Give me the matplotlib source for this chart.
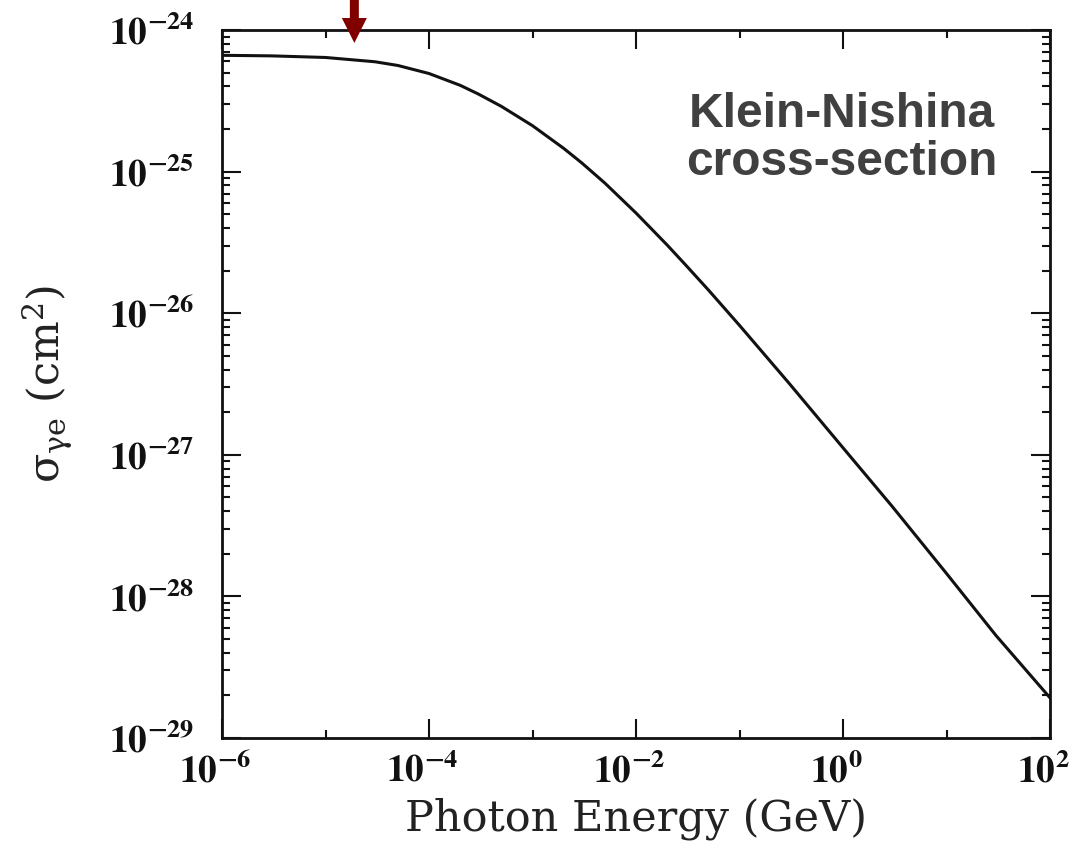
import math
import matplotlib
matplotlib.use("Agg")
import matplotlib.pyplot as plt
import matplotlib.transforms as mtransforms
from matplotlib.patches import FancyArrow
from matplotlib.ticker import FixedLocator, FuncFormatter, LogLocator, NullFormatter

plt.rcParams['mathtext.fontset'] = 'stix'

# Klein-Nishina total cross-section vs photon energy
energy_gev = [1e-6, 3e-6, 1e-5, 3e-5, 5e-5, 1e-4, 2e-4, 3e-4, 5e-4, 1e-3,
              2e-3, 3e-3, 5e-3, 1e-2, 2e-2, 3e-2, 5e-2, 1e-1, 3e-1, 1.0,
              3.0, 10.0, 30.0, 100.0]
sigma_cm2 = [6.63e-25, 6.57e-25, 6.40e-25, 5.97e-25, 5.62e-25, 4.93e-25,
             4.07e-25, 3.53e-25, 2.89e-25, 2.11e-25, 1.46e-25, 1.15e-25,
             8.3e-26, 5.1e-26, 3.03e-26, 2.2e-26, 1.46e-26, 8.2e-27,
             3.21e-27, 1.12e-27, 4.3e-28, 1.45e-28, 5.3e-29, 1.92e-29]

x_major = [1e-6, 1e-4, 1e-2, 1e0, 1e2]
x_minor = [1e-5, 1e-3, 1e-1, 1e1]
y_major = [1e-29, 1e-28, 1e-27, 1e-26, 1e-25, 1e-24]

marker_energy = 1.9e-5
marker_sigma = 8.1e-25

fig = plt.figure(figsize=(10.74, 8.46), dpi=100)
ax = fig.add_axes([0.2067, 0.1277, 0.7710, 0.8368])

ax.plot(energy_gev, sigma_cm2, color='#111111', lw=2.2)
ax.set_xscale('log')
ax.set_yscale('log')
ax.set_xlim(1e-6, 1e2)
ax.set_ylim(1e-29, 1e-24)

ax.xaxis.set_major_locator(FixedLocator(x_major))
ax.xaxis.set_minor_locator(FixedLocator(x_minor))
ax.xaxis.set_minor_formatter(NullFormatter())
ax.yaxis.set_major_locator(FixedLocator(y_major))
ax.yaxis.set_minor_locator(LogLocator(base=10, subs=range(2, 10), numticks=20))
ax.yaxis.set_minor_formatter(NullFormatter())


def pow_label(v, pos):
    e = int(round(math.log10(v)))
    return r'$\mathbf{10^{%d}}$' % e


ax.xaxis.set_major_formatter(FuncFormatter(pow_label))
ax.yaxis.set_major_formatter(FuncFormatter(pow_label))

ax.tick_params(which='both', direction='in', top=True, right=True,
               width=1.5, colors='#111111', labelsize=27)
ax.tick_params(which='major', length=14)
ax.tick_params(which='minor', length=6)
ax.tick_params(axis='x', which='major', pad=11)
ax.tick_params(axis='y', which='major', pad=20)
for s in ax.spines.values():
    s.set_linewidth(2.0)
    s.set_color('#111111')

# nudge x tick labels a little left
shift = mtransforms.ScaledTranslation(-7 / 100, 0, fig.dpi_scale_trans)
for lab in ax.get_xticklabels():
    lab.set_transform(lab.get_transform() + shift)

ax.set_xlabel('Photon Energy (GeV)', family='DejaVu Serif', fontsize=31,
              color='#222222', labelpad=5)
ax.set_ylabel(r'σ$_{\mathrm{\gamma e}}$ (cm$^{\mathrm{2}}$)', family='DejaVu Serif',
              math_fontfamily='dejavuserif', fontsize=31, color='#222222',
              labelpad=24)

ax.text(0.749, 0.847, 'Klein-Nishina\ncross-section', transform=ax.transAxes,
        ha='center', va='center', fontsize=34.5, fontweight='bold',
        family='Liberation Sans', color='#404040', linespacing=1.1)

# arrow dropping in from the top edge, tip at the marked energy
tip_x, tip_y = ax.transData.transform((marker_energy, marker_sigma))
top_y = fig.bbox.height + 2
arrow = FancyArrow(tip_x, top_y, 0, tip_y - top_y, width=9, head_width=25,
                   head_length=25, length_includes_head=True,
                   color='#800000', lw=0, transform=mtransforms.IdentityTransform())
fig.patches.append(arrow)

fig.savefig('out.png', dpi=100)
